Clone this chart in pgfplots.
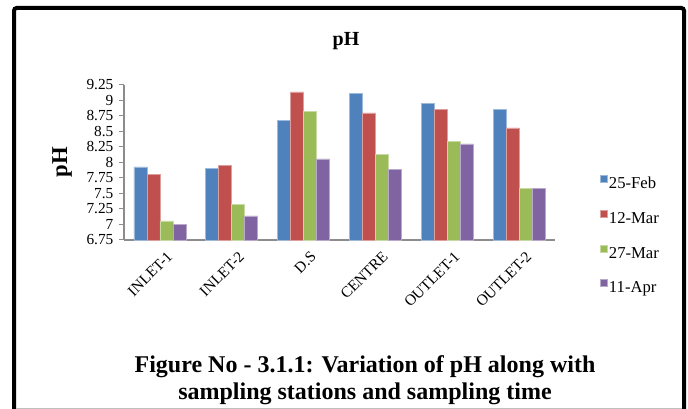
\documentclass[border=0pt]{standalone}
\usepackage{pgfplots}
\pgfplotsset{compat=1.18}
\usepackage{pgfplotstable}
\usepackage{fontspec}
\setmainfont{Liberation Serif}

\definecolor{sBlue}{HTML}{4F81BD}
\definecolor{sRed}{HTML}{C0504D}
\definecolor{sGreen}{HTML}{9BBB59}
\definecolor{sPurple}{HTML}{8064A2}
\definecolor{axisgray}{HTML}{8C8C8C}

% pH at each sampling station (0 = INLET-1 ... 5 = OUTLET-2)
\pgfplotstableread{
st  feb   marA  marB  apr
0   7.93  7.81  7.06  7.00
1   7.90  7.95  7.33  7.14
2   8.68  9.14  8.82  8.06
3   9.12  8.80  8.13  7.89
4   8.95  8.86  8.34  8.30
5   8.86  8.56  7.58  7.58
}\phdata

\begin{document}
\begin{tikzpicture}[x=0.75pt,y=0.75pt]
\useasboundingbox (0,0) rectangle (688,409);
\fill[white] (0,0) rectangle (688,409);
% frame
\draw[line width=3pt, rounded corners=2pt] (14,-2) -- (14,401) -- (684,401) -- (684,-2);
\draw[black!25, line width=0.75pt] (16,0.8) -- (682,0.8);

\begin{axis}[
  at={(93pt,126.75pt)}, anchor=south west,
  scale only axis, width=323.25pt, height=116.25pt,
  ybar=0pt, bar width=9.75pt,
  xmin=-0.5, xmax=5.5, ymin=6.75, ymax=9.25,
  ytick={6.75,7,7.25,7.5,7.75,8,8.25,8.5,8.75,9,9.25},
  yticklabels={6.75,7,7.25,7.5,7.75,8,8.25,8.5,8.75,9,9.25},
  xtick={0,1,2,3,4,5},
  xticklabels={INLET-1,INLET-2,D.S,CENTRE,OUTLET-1,OUTLET-2},
  axis x line*=bottom, axis y line*=left,
  axis line style={draw=axisgray, line width=1.3pt},
  tick align=outside,
  major tick length=3.75pt,
  ytick style={draw=axisgray, line width=0.75pt},
  xtick style={draw=none},
  tick label style={font=\fontsize{11.5}{12}\selectfont},
  yticklabel style={inner sep=1pt, xshift=-3pt},
  xticklabel style={rotate=45, anchor=north east, inner sep=1pt, yshift=-5pt, xshift=1.5pt},
  clip=false,
  legend style={at={(1.104,0.42)}, anchor=north west, draw=none, fill=none,
    inner sep=0pt, row sep=12pt,
    font=\fontsize{12.5}{14}\selectfont,
    nodes={inner sep=1pt, text height=9pt, text depth=3pt}},
  legend cell align=left,
  legend image code/.code={\fill[#1] (0pt,1.6pt) rectangle (5.25pt,6.85pt);},
]
\addplot[fill=sBlue, draw=sBlue!55!white, line width=0.4pt] table[x=st, y=feb] {\phdata};
\addplot[fill=sRed, draw=sRed!55!white, line width=0.4pt] table[x=st, y=marA] {\phdata};
\addplot[fill=sGreen, draw=sGreen!55!white, line width=0.4pt] table[x=st, y=marB] {\phdata};
\addplot[fill=sPurple, draw=sPurple!55!white, line width=0.4pt] table[x=st, y=apr] {\phdata};
\legend{25-Feb,12-Mar,27-Mar,11-Apr}
\end{axis}

% chart title and axis title
\node[font=\bfseries\fontsize{15}{17}\selectfont] at (346,368) {pH};
\node[rotate=90, font=\bfseries\fontsize{17}{20}\selectfont] at (62,247) {pH};

% figure caption
\node[align=center, font=\bfseries\fontsize{18}{20.25}\selectfont] at (365,29)
  {Figure No - 3.1.1: Variation of pH along with\\ sampling stations and sampling time};
\end{tikzpicture}
\end{document}
